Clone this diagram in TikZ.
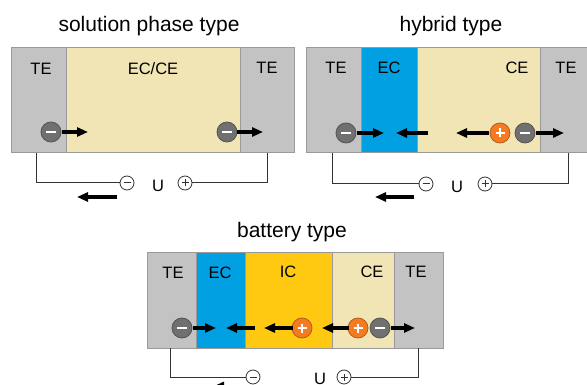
\documentclass[tikz,border=0pt]{standalone}
\usepackage{fontspec}
\setmainfont{Liberation Sans}
\usetikzlibrary{arrows.meta}
\definecolor{tegray}{HTML}{C3C3C3}
\definecolor{bord}{HTML}{9A9A9A}
\definecolor{beige}{HTML}{F1E5B5}
\definecolor{ecblue}{HTML}{00A0E2}
\definecolor{icyel}{HTML}{FEC910}
\definecolor{ionorange}{HTML}{F47B20}
\definecolor{iongray}{HTML}{707070}
\definecolor{wire}{HTML}{333333}
\begin{document}
\begin{tikzpicture}[x=1pt,y=-1pt,
  layer/.style={draw=bord, line width=1pt},
  lab/.style={font=\fontsize{16.5}{16.5}\selectfont, inner sep=0pt, anchor=base},
  ttl/.style={font=\fontsize{21}{21}\selectfont, inner sep=0pt, anchor=base},
  negion/.style={circle, minimum size=20pt, inner sep=0pt, fill=iongray, draw=iongray!75!black, line width=0.8pt,
    path picture={\draw[white,line width=2.2pt] ([xshift=-5pt]path picture bounding box.center) -- ([xshift=5pt]path picture bounding box.center);}},
  posion/.style={circle, minimum size=20pt, inner sep=0pt, fill=ionorange, draw=ionorange!75!black, line width=0.8pt,
    path picture={\draw[white,line width=1.6pt] ([xshift=-4.5pt]path picture bounding box.center) -- ([xshift=4.5pt]path picture bounding box.center);
      \draw[white,line width=1.6pt] ([yshift=-4.5pt]path picture bounding box.center) -- ([yshift=4.5pt]path picture bounding box.center);}},
  wneg/.style={circle, minimum size=14pt, inner sep=0pt, fill=white, draw=wire, line width=0.8pt,
    path picture={\draw[wire,line width=1pt] ([xshift=-3.5pt]path picture bounding box.center) -- ([xshift=3.5pt]path picture bounding box.center);}},
  wpos/.style={circle, minimum size=14pt, inner sep=0pt, fill=white, draw=wire, line width=0.8pt,
    path picture={\draw[wire,line width=1pt] ([xshift=-3.5pt]path picture bounding box.center) -- ([xshift=3.5pt]path picture bounding box.center);
      \draw[wire,line width=1pt] ([yshift=-3.5pt]path picture bounding box.center) -- ([yshift=3.5pt]path picture bounding box.center);}},
  iarr/.style={line width=3.6pt, -{Triangle[length=11pt,width=9pt]}},
  wln/.style={draw=wire, line width=1pt}
]
\useasboundingbox (0,0) rectangle (587,385);
\fill[white] (0,0) rectangle (587,385);
\begin{scope}
\clip (0,0) rectangle (587,385);
% ---------- solution phase type ----------
\node[ttl] (t1) at (149,32) {solution phase type};
\draw[layer, fill=tegray] (11,48) rectangle (66,153);
\draw[layer, fill=beige] (66,48) rectangle (240,153);
\draw[layer, fill=tegray] (240,48) rectangle (294,153);
\node[lab] (a1) at (41,75) {TE};
\node[lab] (a2) at (153,75) {EC/CE};
\node[lab] (a3) at (267,74) {TE};
\node[negion] (n11) at (51,132) {};
\node[negion] (n12) at (227,132) {};
\coordinate (p11s) at (62,132); \coordinate (p11e) at (88,132);
\coordinate (p12s) at (237,132); \coordinate (p12e) at (263,132);
\draw[iarr] (p11s) -- (p11e);
\draw[iarr] (p12s) -- (p12e);
\coordinate (w1l) at (36,153); \coordinate (w1r) at (267,153);
\node[wneg] (m1) at (127,183) {};
\node[wpos] (q1) at (185,183) {};
\node[lab] (u1) at (158,192) {U};
\draw[wln] (w1l) |- (m1.west);
\draw[wln] (w1r) |- (q1.east);
\coordinate (r1s) at (117,197); \coordinate (r1e) at (77,197);
\draw[iarr] (r1s) -- (r1e);
% ---------- hybrid type ----------
\node[ttl] (t2) at (451,32) {hybrid type};
\draw[layer, fill=tegray] (306,48) rectangle (361,153);
\draw[layer, fill=ecblue] (361,48) rectangle (417,153);
\draw[layer, fill=beige] (417,48) rectangle (540,153);
\draw[layer, fill=tegray] (540,48) rectangle (600,153);
\node[lab] (b1) at (336,74) {TE};
\node[lab] (b2) at (389,74) {EC};
\node[lab] (b3) at (517,74) {CE};
\node[lab] (b4) at (566,74) {TE};
\node[negion] (n21) at (346,133) {};
\node[posion] (n22) at (500,133) {};
\node[negion] (n23) at (525,133) {};
\coordinate (p21s) at (357,133); \coordinate (p21e) at (384,133);
\coordinate (p22s) at (428,133); \coordinate (p22e) at (396,133);
\coordinate (p23s) at (489,133); \coordinate (p23e) at (456,133);
\coordinate (p24s) at (536,133); \coordinate (p24e) at (564,133);
\draw[iarr] (p21s) -- (p21e);
\draw[iarr] (p22s) -- (p22e);
\draw[iarr] (p23s) -- (p23e);
\draw[iarr] (p24s) -- (p24e);
\coordinate (w2l) at (332,153); \coordinate (w2r) at (568,153);
\node[wneg] (m2) at (426,184) {};
\node[wpos] (q2) at (485,184) {};
\node[lab] (u2) at (457,193) {U};
\draw[wln] (w2l) |- (m2.west);
\draw[wln] (w2r) |- (q2.east);
\coordinate (r2s) at (414,197); \coordinate (r2e) at (375,197);
\draw[iarr] (r2s) -- (r2e);
% ---------- battery type ----------
\node[ttl] (t3) at (292,237) {battery type};
\draw[layer, fill=tegray] (147,253) rectangle (196,348);
\draw[layer, fill=ecblue] (196,253) rectangle (245,348);
\draw[layer, fill=icyel] (245,253) rectangle (332,348);
\draw[layer, fill=beige] (332,253) rectangle (394,348);
\draw[layer, fill=tegray] (394,253) rectangle (443,348);
\node[lab] (c1) at (173,278) {TE};
\node[lab] (c2) at (220,279) {EC};
\node[lab] (c3) at (288,277) {IC};
\node[lab] (c4) at (372,277) {CE};
\node[lab] (c5) at (416,277) {TE};
\node[negion] (n31) at (182,328) {};
\node[posion] (n32) at (302,328) {};
\node[posion] (n33) at (358,328) {};
\node[negion] (n34) at (380,328) {};
\coordinate (p31s) at (193,328); \coordinate (p31e) at (216,328);
\coordinate (p32s) at (255,328); \coordinate (p32e) at (226,328);
\coordinate (p33s) at (293,328); \coordinate (p33e) at (264,328);
\coordinate (p34s) at (349,328); \coordinate (p34e) at (322,328);
\coordinate (p35s) at (391,328); \coordinate (p35e) at (415,328);
\draw[iarr] (p31s) -- (p31e);
\draw[iarr] (p32s) -- (p32e);
\draw[iarr] (p33s) -- (p33e);
\draw[iarr] (p34s) -- (p34e);
\draw[iarr] (p35s) -- (p35e);
\coordinate (w3l) at (170,348); \coordinate (w3r) at (418,348);
\node[wneg] (m3) at (253,377) {};
\node[wpos] (q3) at (344,377) {};
\node[lab] (u3) at (320,384.5) {U};
\draw[wln] (w3l) |- (m3.west);
\draw[wln] (w3r) |- (q3.east);
\coordinate (r3s) at (243,386.5) ; \coordinate (r3e) at (213,386.5);
\draw[iarr] (r3s) -- (r3e);
\end{scope}
\end{tikzpicture}
\end{document}
